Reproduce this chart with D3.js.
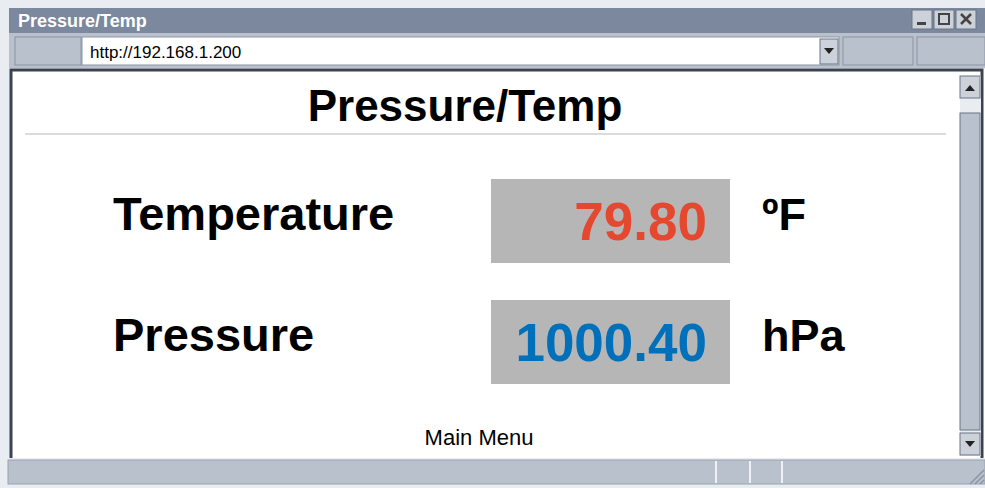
<!DOCTYPE html>
<html>
<head>
    <meta charset="utf-8">
    <title>Pressure/Temp</title>
    <script type="text/javascript" src="https://cdn.jsdelivr.net/npm/d3@7"></script>
    <style type="text/css">
        body { margin: 0; background: #fff; }
        svg { display: block; font-family: "Liberation Sans", Arial, sans-serif; }
    </style>
</head>
<body>
<div id="app"></div>

<script type="text/javascript">
    // readings shown on the page
    var categories = ["Temperature", "Pressure"];
    var values = [79.80, 1000.40];
    var units = ["\u00baF", "hPa"];
    var valueColors = ["#e4492f", "#0070ba"];

    var pageTitle = "Pressure/Temp";
    var address = "http://192.168.1.200";
    var footerLink = "Main Menu";

    !function () {
        const w = 985, h = 488;
        const svg = d3.select('#app').append('svg').attr('width', w).attr('height', h);

        // ---- window chrome ----
        svg.append('rect').attr('x', 0).attr('y', 0).attr('width', w).attr('height', h).attr('fill', '#e9ecf1');
        // title bar
        svg.append('rect').attr('x', 9).attr('y', 8).attr('width', 976).attr('height', 25).attr('fill', '#7b889d');
        svg.append('text').text(pageTitle)
            .attr('x', 18).attr('y', 27)
            .attr('font-size', 18).attr('font-weight', 'bold').attr('fill', '#fff');

        // window buttons
        var btnX = [912, 934, 956];
        svg.selectAll('rect.winbtn').data(btnX).enter().append('rect')
            .attr('class', 'winbtn')
            .attr('x', function (d) { return d; }).attr('y', 10)
            .attr('width', 20).attr('height', 19)
            .attr('fill', '#ccd1da').attr('stroke', '#6b7485').attr('stroke-width', 1);
        svg.append('rect').attr('x', 917).attr('y', 22).attr('width', 9).attr('height', 3).attr('fill', '#444');
        svg.append('rect').attr('x', 939).attr('y', 14).attr('width', 10).attr('height', 10)
            .attr('fill', 'none').attr('stroke', '#444').attr('stroke-width', 2);
        svg.append('path').attr('d', 'M961,14 L971,24 M971,14 L961,24')
            .attr('stroke', '#444').attr('stroke-width', 2.5);

        // address row
        svg.append('rect').attr('x', 9).attr('y', 33).attr('width', 976).attr('height', 35).attr('fill', '#b9c1cd');
        svg.append('rect').attr('x', 15).attr('y', 37).attr('width', 66).attr('height', 28)
            .attr('fill', '#b9c1cd').attr('stroke', '#8b94a3');
        svg.append('rect').attr('x', 82).attr('y', 37).attr('width', 757).attr('height', 28)
            .attr('fill', '#fff').attr('stroke', '#8b94a3');
        svg.append('text').text(address)
            .attr('x', 90).attr('y', 58).attr('font-size', 17).attr('fill', '#000');
        svg.append('rect').attr('x', 820).attr('y', 39).attr('width', 18).attr('height', 25)
            .attr('fill', '#ccd1da').attr('stroke', '#6b7485');
        svg.append('path').attr('d', 'M824,48 L834,48 L829,54 Z').attr('fill', '#222');
        svg.append('rect').attr('x', 843).attr('y', 37).attr('width', 70).attr('height', 28)
            .attr('fill', '#b9c1cd').attr('stroke', '#8b94a3');
        svg.append('rect').attr('x', 917).attr('y', 37).attr('width', 68).attr('height', 28)
            .attr('fill', '#b9c1cd').attr('stroke', '#8b94a3');

        // content frame
        svg.append('rect').attr('x', 10).attr('y', 69).attr('width', 975).attr('height', 389)
            .attr('fill', '#fff');
        svg.append('path').attr('d', 'M11,458 L11,70 L982,70 L982,458')
            .attr('fill', 'none').attr('stroke', '#3c4350').attr('stroke-width', 3);

        // scrollbar
        svg.append('rect').attr('x', 960).attr('y', 76).attr('width', 21).attr('height', 380).attr('fill', '#e9ecf1');
        svg.append('rect').attr('x', 960).attr('y', 76).attr('width', 20).attr('height', 22)
            .attr('fill', '#ccd1da').attr('stroke', '#6b7485');
        svg.append('path').attr('d', 'M965,91 L975,91 L970,85 Z').attr('fill', '#222');
        svg.append('rect').attr('x', 960).attr('y', 113).attr('width', 20).attr('height', 317)
            .attr('fill', '#b9c1cd').attr('stroke', '#6b7485');
        svg.append('rect').attr('x', 960).attr('y', 433).attr('width', 20).attr('height', 22)
            .attr('fill', '#ccd1da').attr('stroke', '#6b7485');
        svg.append('path').attr('d', 'M965,441 L975,441 L970,447 Z').attr('fill', '#222');

        // status bar
        svg.append('rect').attr('x', 8).attr('y', 460).attr('width', 977).attr('height', 24)
            .attr('fill', '#b9c1cd').attr('stroke', '#9aa2b0');
        var seps = [716, 750, 782];
        svg.selectAll('line.sep').data(seps).enter().append('line')
            .attr('class', 'sep')
            .attr('x1', function (d) { return d; }).attr('x2', function (d) { return d; })
            .attr('y1', 461).attr('y2', 483)
            .attr('stroke', '#eef0f4').attr('stroke-width', 2);
        // resize grip
        svg.append('path').attr('d', 'M970,484 L984,470 M975,484 L984,475 M980,484 L984,480')
            .attr('stroke', '#8b94a3').attr('stroke-width', 1.5);

        // ---- page content ----
        svg.append('text').text(pageTitle)
            .attr('x', 465).attr('y', 121)
            .attr('text-anchor', 'middle')
            .attr('font-size', 44).attr('font-weight', 'bold').attr('fill', '#000');
        svg.append('line').attr('x1', 25).attr('x2', 946).attr('y1', 134).attr('y2', 134)
            .attr('stroke', '#dcdcdc').attr('stroke-width', 2);

        // one row per reading
        var y = d3.scalePoint().domain(categories).range([179, 300]);
        var rows = categories.map(function (c, i) {
            return { name: c, value: values[i], unit: units[i], color: valueColors[i] };
        });

        var row = svg.selectAll('g.row').data(rows).enter().append('g')
            .attr('class', 'row')
            .attr('transform', function (d) { return 'translate(0,' + y(d.name) + ')'; });

        row.append('text').text(function (d) { return d.name; })
            .attr('x', 113).attr('y', 51)
            .attr('font-size', 47).attr('font-weight', 'bold').attr('fill', '#000');

        row.append('rect')
            .attr('x', 491).attr('y', 0)
            .attr('width', 239).attr('height', 84)
            .attr('fill', '#b6b6b6');

        row.append('text').text(function (d) { return d3.format('.2f')(d.value); })
            .attr('x', 707).attr('y', 61)
            .attr('text-anchor', 'end')
            .attr('font-size', 53).attr('font-weight', 'bold')
            .attr('fill', function (d) { return d.color; });

        row.append('text').text(function (d) { return d.unit; })
            .attr('x', 762).attr('y', 51)
            .attr('font-size', 45).attr('font-weight', 'bold').attr('fill', '#000');

        svg.append('text').text(footerLink)
            .attr('x', 479).attr('y', 445)
            .attr('text-anchor', 'middle')
            .attr('font-size', 22).attr('fill', '#000');
    }();
</script>
</body>
</html>
